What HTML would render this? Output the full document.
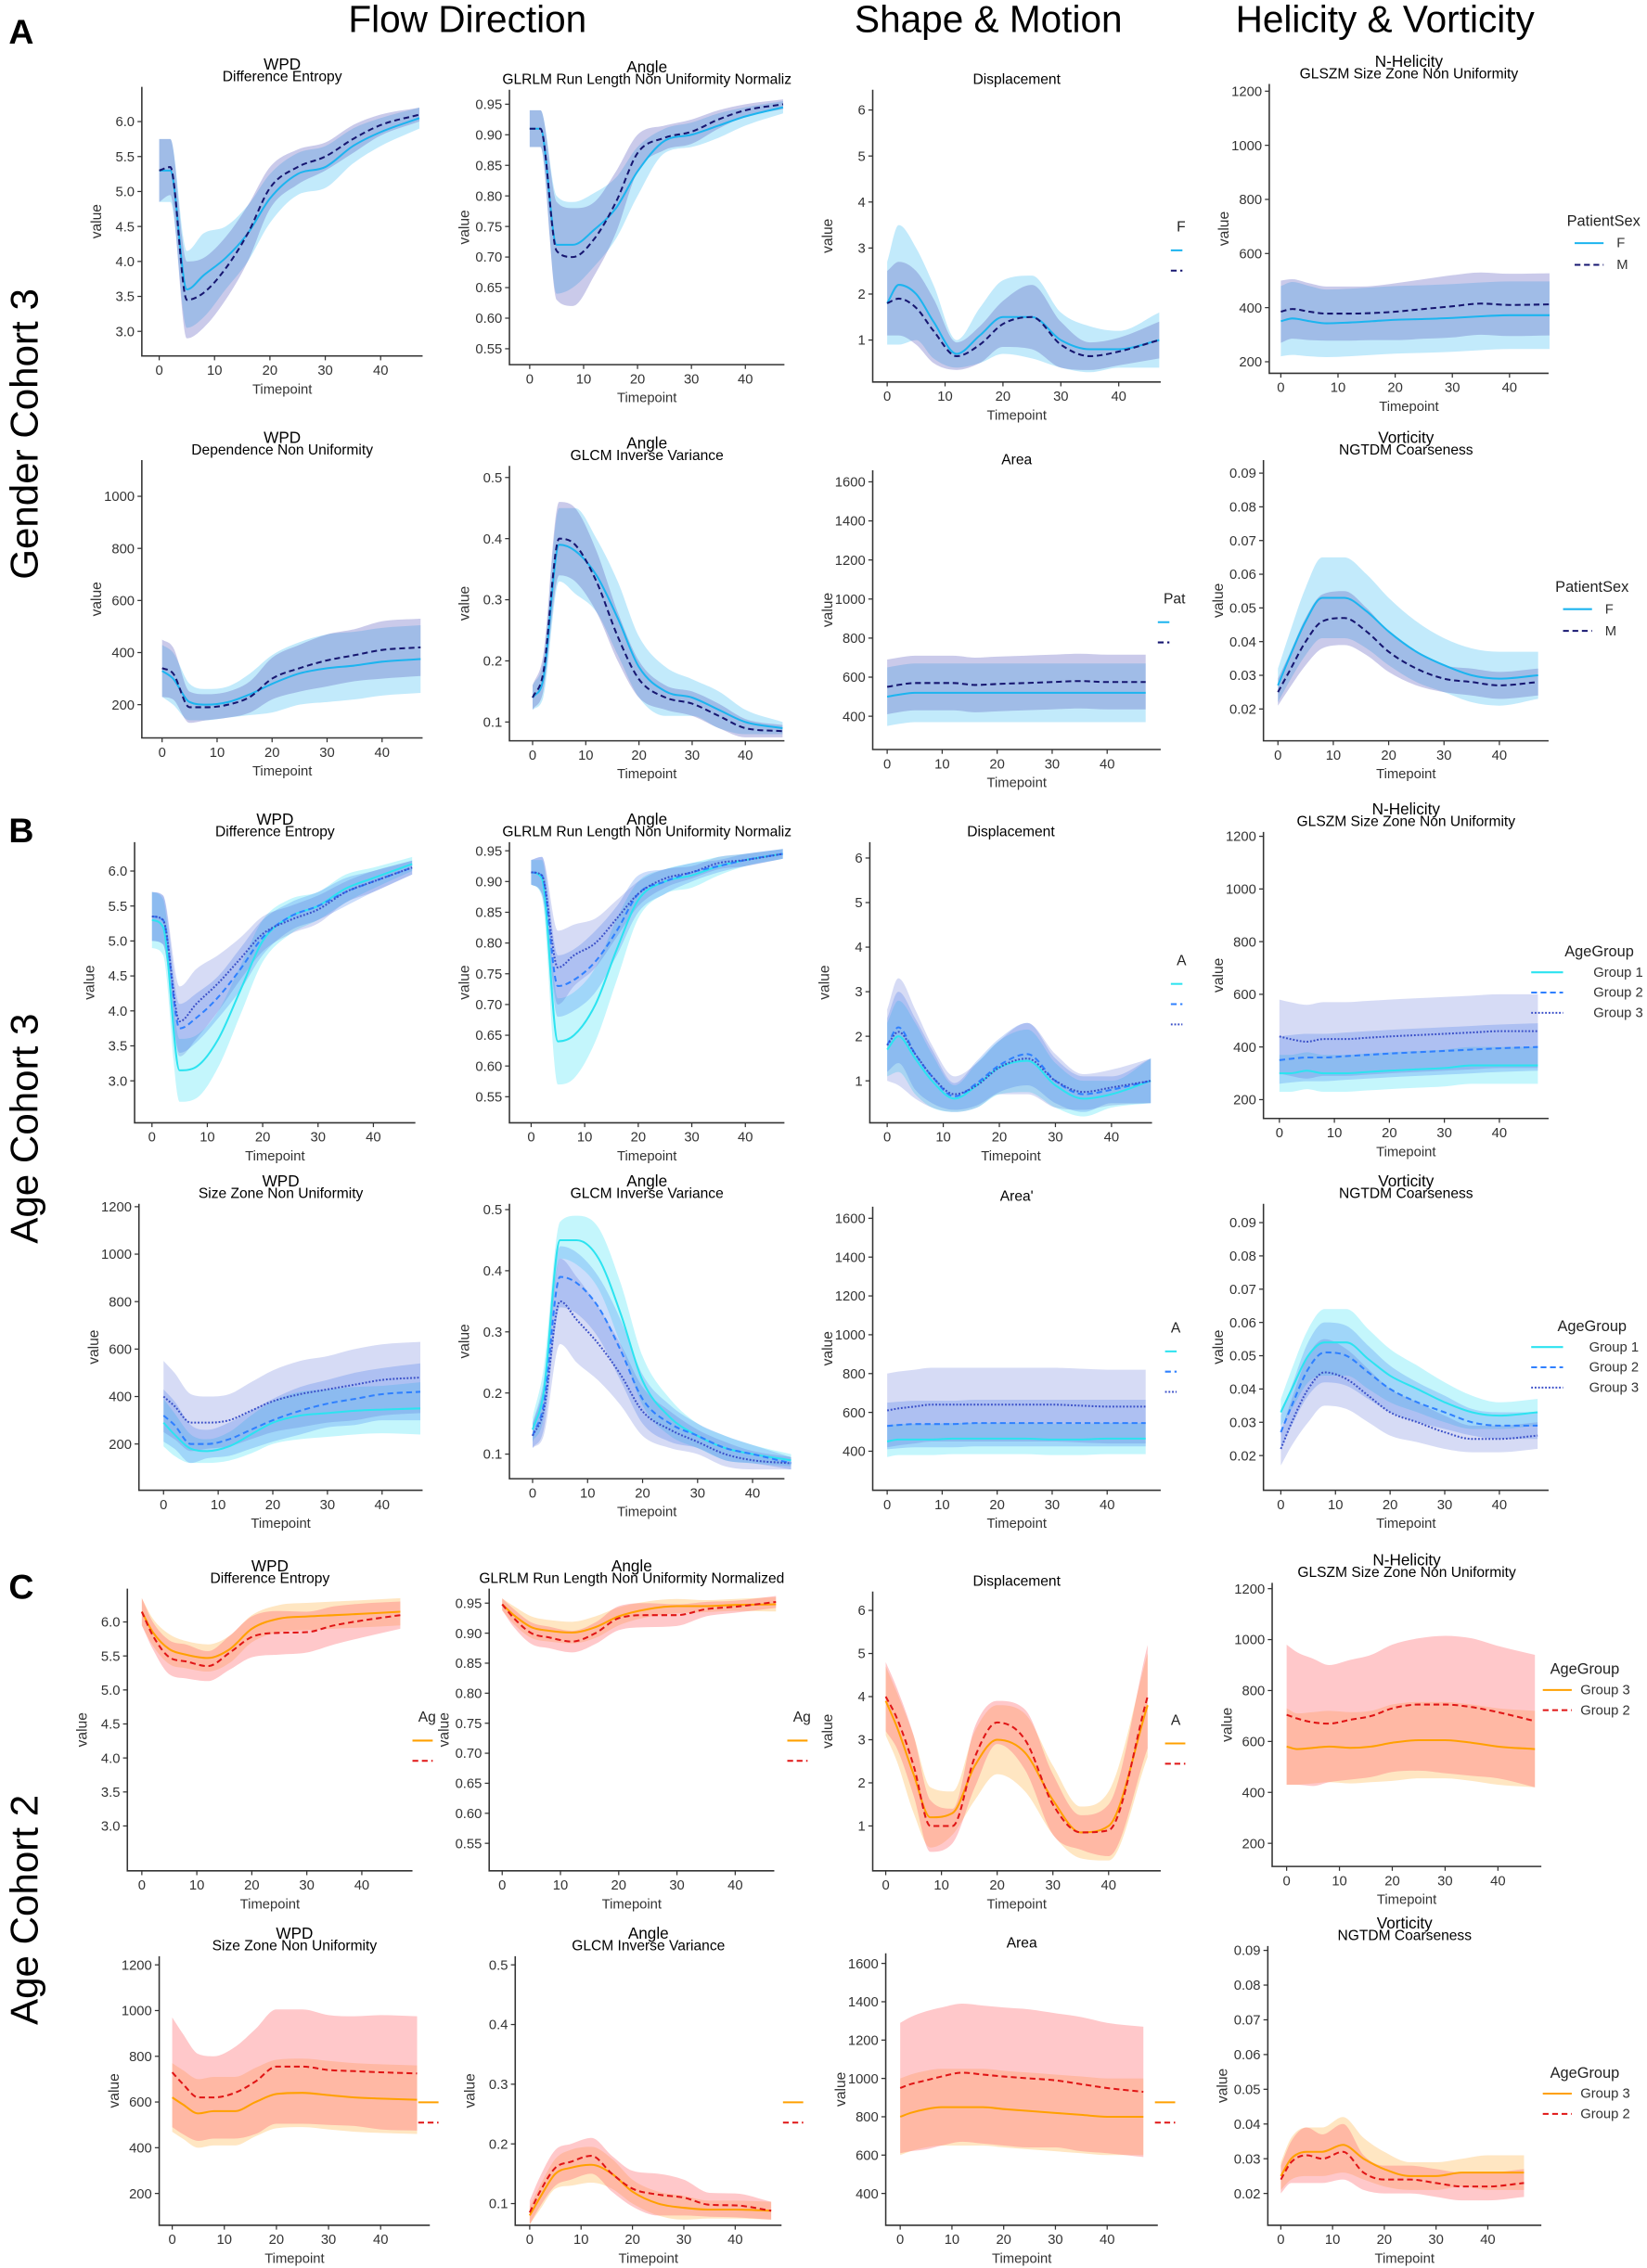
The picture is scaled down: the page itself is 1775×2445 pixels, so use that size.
<!DOCTYPE html>
<html><head><meta charset="utf-8">
<style>
html,body{margin:0;padding:0;background:#fff;}
svg{display:block;font-family:"Liberation Sans",sans-serif;}
.tk{font-family:"Liberation Sans Narrow","Liberation Sans",sans-serif;font-size:9.5px;fill:#333;}
</style></head>
<body>
<svg id="fig" width="1775" height="2445" viewBox="0 0 1138 1567.5" xmlns="http://www.w3.org/2000/svg">
<text x="323" y="22" font-size="26" text-anchor="middle">Flow Direction</text>
<text x="683" y="22" font-size="26" text-anchor="middle">Shape &amp; Motion</text>
<text x="957" y="22" font-size="26" text-anchor="middle">Helicity &amp; Vorticity</text>
<text x="6" y="30" font-size="24" font-weight="bold">A</text>
<text x="6" y="582" font-size="24" font-weight="bold">B</text>
<text x="6" y="1105" font-size="24" font-weight="bold">C</text>
<text transform="translate(26,300) rotate(-90)" font-size="27" text-anchor="middle">Gender Cohort 3</text>
<text transform="translate(26,780) rotate(-90)" font-size="27" text-anchor="middle">Age Cohort 3</text>
<text transform="translate(26,1320) rotate(-90)" font-size="27" text-anchor="middle">Age Cohort 2</text>
<g id="panels"></g>
</svg>
<script>
// shared timepoints
const timepoints = [0,2,5,8,12,16,20,25,30,35,40,47];
const xTicks = [0,10,20,30,40];
// ---- Section A (Gender cohort 3) ----
const a1c1_F = [5.3,5.3,3.6,3.8,4.05,4.4,4.9,5.25,5.35,5.65,5.85,6.05];
const a1c1_F_sd = [0.45,0.45,0.55,0.6,0.45,0.4,0.35,0.3,0.3,0.25,0.2,0.15];
const a1c1_M = [5.3,5.35,3.45,3.55,3.9,4.4,5.05,5.35,5.5,5.75,5.95,6.1];
const a1c1_M_sd = [0.45,0.4,0.55,0.5,0.45,0.4,0.3,0.25,0.2,0.2,0.15,0.1];
const a1c2_F = [0.91,0.91,0.72,0.72,0.745,0.78,0.84,0.89,0.90,0.915,0.93,0.945];
const a1c2_F_sd = [0.03,0.03,0.08,0.07,0.06,0.05,0.04,0.02,0.02,0.02,0.015,0.01];
const a1c2_M = [0.91,0.91,0.71,0.70,0.73,0.79,0.87,0.895,0.905,0.925,0.94,0.95];
const a1c2_M_sd = [0.03,0.03,0.08,0.08,0.06,0.05,0.03,0.02,0.02,0.015,0.01,0.008];
const a1c3_F = [1.8,2.2,2.0,1.4,0.7,1.1,1.5,1.5,1.0,0.8,0.8,1.0];
const a1c3_F_sd = [0.9,1.3,1.0,0.8,0.3,0.6,0.8,0.9,0.6,0.5,0.4,0.6];
const a1c3_M = [1.8,1.9,1.7,1.2,0.65,0.9,1.35,1.5,0.9,0.65,0.75,1.0];
const a1c3_M_sd = [0.7,0.8,0.8,0.7,0.3,0.4,0.5,0.7,0.5,0.3,0.3,0.4];
const a1c4_F = [350,360,350,342,345,350,355,358,362,368,372,372];
const a1c4_F_sd = [130,135,130,125,125,125,125,125,125,125,125,125];
const a1c4_M = [385,395,385,378,378,380,385,395,405,415,410,412];
const a1c4_M_sd = [115,110,105,100,100,100,105,110,115,115,115,115];
const a2c1_F = [330,300,210,200,210,240,280,320,340,350,365,375];
const a2c1_F_sd = [100,100,70,60,60,80,110,120,130,130,130,130];
const a2c1_M = [340,320,190,190,200,230,300,340,370,390,410,420];
const a2c1_M_sd = [110,100,60,50,50,60,80,90,100,100,110,110];
const a2c2_F = [0.14,0.17,0.39,0.38,0.34,0.27,0.19,0.15,0.14,0.12,0.10,0.09];
const a2c2_F_sd = [0.02,0.03,0.06,0.07,0.06,0.06,0.05,0.04,0.03,0.03,0.02,0.01];
const a2c2_M = [0.14,0.18,0.40,0.39,0.33,0.24,0.17,0.14,0.13,0.11,0.09,0.085];
const a2c2_M_sd = [0.02,0.03,0.06,0.06,0.05,0.04,0.03,0.02,0.02,0.02,0.015,0.01];
const a2c3_F = [500,510,520,520,520,520,520,520,520,520,520,520];
const a2c3_F_sd = [150,150,150,150,150,150,150,150,150,150,150,150];
const a2c3_M = [550,560,570,570,570,560,565,570,575,580,575,575];
const a2c3_M_sd = [140,140,140,140,140,140,140,140,140,140,140,140];
const a2c4_F = [0.027,0.035,0.046,0.053,0.053,0.049,0.043,0.037,0.033,0.030,0.029,0.030];
const a2c4_F_sd = [0.005,0.007,0.01,0.012,0.012,0.011,0.01,0.009,0.008,0.008,0.008,0.007];
const a2c4_M = [0.025,0.031,0.040,0.046,0.047,0.043,0.037,0.032,0.029,0.028,0.027,0.028];
const a2c4_M_sd = [0.004,0.005,0.007,0.008,0.008,0.007,0.006,0.005,0.004,0.004,0.004,0.004];
// ---- Section B (Age cohort 3) ----
const b1c1_G1 = [5.3,5.2,3.15,3.2,3.6,4.3,5.0,5.35,5.5,5.75,5.9,6.1];
const b1c1_G1_sd = [0.4,0.4,0.45,0.45,0.4,0.35,0.3,0.25,0.2,0.2,0.15,0.1];
const b1c1_G2 = [5.35,5.3,3.75,3.9,4.2,4.6,5.05,5.35,5.5,5.7,5.85,6.05];
const b1c1_G2_sd = [0.35,0.35,0.35,0.35,0.3,0.3,0.25,0.2,0.2,0.2,0.15,0.1];
const b1c1_G3 = [5.35,5.3,3.85,4.1,4.4,4.75,5.1,5.3,5.45,5.7,5.85,6.05];
const b1c1_G3_sd = [0.35,0.35,0.5,0.5,0.4,0.3,0.25,0.2,0.2,0.15,0.15,0.1];
const b1c2_G1 = [0.915,0.905,0.64,0.65,0.70,0.79,0.87,0.90,0.91,0.925,0.935,0.945];
const b1c2_G1_sd = [0.02,0.03,0.07,0.07,0.06,0.05,0.03,0.02,0.02,0.015,0.01,0.008];
const b1c2_G2 = [0.915,0.91,0.73,0.74,0.77,0.82,0.88,0.90,0.915,0.925,0.935,0.945];
const b1c2_G2_sd = [0.02,0.03,0.05,0.05,0.05,0.04,0.03,0.02,0.015,0.01,0.01,0.008];
const b1c2_G3 = [0.915,0.91,0.76,0.78,0.80,0.84,0.88,0.905,0.915,0.93,0.935,0.945];
const b1c2_G3_sd = [0.02,0.03,0.06,0.05,0.04,0.03,0.02,0.015,0.01,0.01,0.01,0.008];
const b1c3_G1 = [1.7,2.0,1.5,1.0,0.6,0.9,1.3,1.45,0.9,0.6,0.7,1.0];
const b1c3_G1_sd = [0.6,0.8,0.8,0.6,0.3,0.5,0.6,0.7,0.5,0.4,0.3,0.5];
const b1c3_G2 = [1.8,2.2,1.6,1.1,0.65,0.95,1.35,1.6,1.0,0.7,0.8,1.0];
const b1c3_G2_sd = [0.6,0.8,0.8,0.6,0.3,0.5,0.6,0.7,0.5,0.4,0.3,0.5];
const b1c3_G3 = [1.8,2.1,1.6,1.1,0.7,0.9,1.3,1.5,1.0,0.75,0.85,1.0];
const b1c3_G3_sd = [0.8,1.2,1.0,0.7,0.4,0.5,0.6,0.8,0.6,0.4,0.4,0.5];
const b1c4_G1 = [300,300,310,300,300,305,310,315,320,330,330,330];
const b1c4_G1_sd = [70,70,70,70,70,70,70,70,70,70,70,70];
const b1c4_G2 = [350,355,360,360,365,370,375,380,385,390,395,400];
const b1c4_G2_sd = [90,90,90,90,90,90,90,90,90,90,90,90];
const b1c4_G3 = [440,430,420,430,430,435,440,445,450,455,460,460];
const b1c4_G3_sd = [140,140,140,140,140,140,140,140,140,140,140,140];
const b2c1_G1 = [290,240,180,170,190,240,290,320,330,340,345,350];
const b2c1_G1_sd = [100,90,60,50,60,80,90,100,100,100,100,110];
const b2c1_G2 = [320,280,200,200,220,260,300,340,370,390,410,420];
const b2c1_G2_sd = [110,100,80,60,70,80,90,100,100,110,110,120];
const b2c1_G3 = [400,360,290,290,300,340,380,410,430,450,470,480];
const b2c1_G3_sd = [150,140,120,110,110,120,130,140,140,150,150,150];
const b2c2_G1 = [0.14,0.20,0.45,0.45,0.42,0.33,0.22,0.16,0.13,0.11,0.10,0.09];
const b2c2_G1_sd = [0.02,0.04,0.03,0.04,0.05,0.05,0.04,0.03,0.02,0.02,0.015,0.01];
const b2c2_G2 = [0.13,0.18,0.39,0.38,0.34,0.27,0.19,0.15,0.13,0.11,0.10,0.085];
const b2c2_G2_sd = [0.02,0.04,0.05,0.05,0.05,0.05,0.04,0.03,0.02,0.02,0.015,0.01];
const b2c2_G3 = [0.13,0.17,0.35,0.32,0.28,0.23,0.17,0.14,0.12,0.10,0.09,0.085];
const b2c2_G3_sd = [0.02,0.04,0.07,0.07,0.06,0.05,0.04,0.03,0.02,0.02,0.015,0.01];
const b2c3_G1 = [450,460,460,460,465,465,465,465,460,460,465,465];
const b2c3_G1_sd = [80,80,80,80,80,80,80,80,80,80,80,80];
const b2c3_G2 = [530,535,540,540,540,545,545,545,545,545,545,545];
const b2c3_G2_sd = [120,120,120,120,120,120,120,120,120,120,120,120];
const b2c3_G3 = [610,620,630,640,640,640,640,640,640,635,630,630];
const b2c3_G3_sd = [190,190,190,190,190,190,190,190,190,190,190,190];
const b2c4_G1 = [0.033,0.040,0.050,0.054,0.054,0.049,0.044,0.040,0.036,0.033,0.032,0.033];
const b2c4_G1_sd = [0.004,0.006,0.008,0.01,0.01,0.009,0.008,0.007,0.006,0.005,0.004,0.004];
const b2c4_G2 = [0.027,0.035,0.046,0.051,0.050,0.045,0.040,0.036,0.033,0.030,0.029,0.029];
const b2c4_G2_sd = [0.005,0.006,0.008,0.009,0.009,0.008,0.007,0.006,0.005,0.004,0.004,0.004];
const b2c4_G3 = [0.022,0.030,0.040,0.045,0.043,0.038,0.033,0.030,0.027,0.025,0.025,0.026];
const b2c4_G3_sd = [0.005,0.007,0.01,0.01,0.009,0.008,0.007,0.006,0.005,0.004,0.004,0.004];
// ---- Section C (Age cohort 2) ----
const c1c1_G3 = [6.15,5.85,5.6,5.52,5.47,5.6,5.9,6.05,6.08,6.1,6.12,6.15];
const c1c1_G3_sd = [0.2,0.2,0.22,0.2,0.2,0.2,0.2,0.2,0.2,0.2,0.2,0.2];
const c1c1_G2 = [6.15,5.8,5.48,5.42,5.35,5.55,5.78,5.84,5.85,5.95,6.02,6.1];
const c1c1_G2_sd = [0.2,0.2,0.25,0.25,0.22,0.25,0.3,0.32,0.3,0.28,0.25,0.2];
const c1c2_G3 = [0.948,0.93,0.91,0.904,0.901,0.91,0.928,0.94,0.945,0.945,0.947,0.948];
const c1c2_G3_sd = [0.01,0.015,0.018,0.018,0.018,0.018,0.015,0.013,0.012,0.01,0.01,0.012];
const c1c2_G2 = [0.948,0.925,0.90,0.893,0.886,0.90,0.925,0.93,0.93,0.94,0.944,0.952];
const c1c2_G2_sd = [0.01,0.015,0.018,0.018,0.018,0.018,0.02,0.02,0.018,0.012,0.01,0.01];
const c1c3_G3 = [3.9,3.3,2.2,1.2,1.3,2.4,3.0,2.7,1.6,0.85,1.0,3.8];
const c1c3_G3_sd = [0.8,0.8,0.9,0.7,0.5,0.8,0.8,0.9,0.8,0.6,0.8,1.2];
const c1c3_G2 = [4.0,3.5,2.4,1.0,1.0,2.6,3.4,3.0,1.5,0.85,0.9,4.0];
const c1c3_G2_sd = [0.8,0.7,0.7,0.6,0.4,0.7,0.5,0.7,0.7,0.4,0.6,1.2];
const c1c4_G3 = [580,570,575,580,575,580,595,605,605,595,580,570];
const c1c4_G3_sd = [150,140,140,140,140,140,150,150,150,150,150,150];
const c1c4_G2 = [705,690,675,670,685,700,730,745,745,735,715,680];
const c1c4_G2_sd = [275,260,250,230,235,240,250,260,270,270,260,260];
const c2c1_G3 = [620,590,550,560,560,600,635,640,630,620,615,610];
const c2c1_G3_sd = [150,150,150,150,150,150,150,150,150,150,150,150];
const c2c1_G2 = [730,680,620,620,640,690,755,755,740,735,730,725];
const c2c1_G2_sd = [240,220,190,180,200,230,250,250,240,240,250,250];
const c2c2_G3 = [0.08,0.11,0.15,0.16,0.165,0.15,0.12,0.10,0.093,0.09,0.09,0.088];
const c2c2_G3_sd = [0.015,0.02,0.025,0.03,0.03,0.025,0.02,0.02,0.02,0.015,0.015,0.015];
const c2c2_G2 = [0.085,0.12,0.16,0.17,0.18,0.15,0.125,0.115,0.11,0.098,0.097,0.088];
const c2c2_G2_sd = [0.02,0.025,0.03,0.03,0.03,0.03,0.03,0.035,0.03,0.02,0.02,0.015];
const c2c3_G3 = [800,820,840,850,850,850,840,830,820,810,800,800];
const c2c3_G3_sd = [200,200,200,200,200,200,200,200,200,200,200,200];
const c2c3_G2 = [950,970,990,1010,1030,1020,1010,1000,990,970,950,930];
const c2c3_G2_sd = [340,350,360,360,360,360,360,360,350,350,340,340];
const c2c4_G3 = [0.025,0.030,0.032,0.032,0.034,0.030,0.027,0.025,0.025,0.026,0.026,0.026];
const c2c4_G3_sd = [0.004,0.006,0.007,0.007,0.008,0.006,0.005,0.004,0.004,0.004,0.005,0.005];
const c2c4_G2 = [0.024,0.029,0.031,0.030,0.032,0.026,0.024,0.024,0.023,0.022,0.022,0.023];
const c2c4_G2_sd = [0.004,0.006,0.008,0.007,0.008,0.005,0.004,0.004,0.004,0.004,0.004,0.004];
// tick label arrays
const ticksEntropy = [3.0,3.5,4.0,4.5,5.0,5.5,6.0];
const ticksGLRLM = [0.55,0.60,0.65,0.70,0.75,0.80,0.85,0.90,0.95];
const ticksDisp = [1,2,3,4,5,6];
const ticks1200 = [200,400,600,800,1000,1200];
const ticks1000 = [200,400,600,800,1000];
const ticksIV = [0.1,0.2,0.3,0.4,0.5];
const ticksArea = [400,600,800,1000,1200,1400,1600];
const ticksCoarse = [0.02,0.03,0.04,0.05,0.06,0.07,0.08,0.09];

const STY = {
  F:{c:'#1cb4ef',d:'',b:'rgba(110,205,245,0.42)'},
  M:{c:'#161670',d:'4,2.5',b:'rgba(90,90,190,0.32)'},
  G1:{c:'#2ce3f0',d:'',b:'rgba(60,225,245,0.30)'},
  G2:{c:'#2f80ff',d:'4,2.5',b:'rgba(50,120,240,0.25)'},
  G3b:{c:'#3a4fc8',d:'1.2,1.2',b:'rgba(70,90,210,0.22)'},
  G3o:{c:'#ffa000',d:'',b:'rgba(255,195,110,0.42)'},
  G2r:{c:'#e01515',d:'4,2.5',b:'rgba(255,110,115,0.38)'}
};
function fmt(v,t){ if(t===ticksEntropy) return v.toFixed(1); if(t===ticksGLRLM||t===ticksCoarse) return v.toFixed(2); if(t===ticksIV) return v.toFixed(1); return String(v);}

// legend layout: [title, labels, titleX, lineX1, lineX2, textX, titleY, rowGap]
const P = [
 {id:'a1c1',t1:'WPD',t2:'Difference Entropy',L:98,T:60,B:246,R:292,x0:110,x40:263,yt:ticksEntropy,yb:229,ytp:84,s:[[a1c1_F,a1c1_F_sd,'F'],[a1c1_M,a1c1_M_sd,'M']]},
 {id:'a1c2',t1:'Angle',t2:'GLRLM Run Length Non Uniformity Normaliz',L:352,T:62,B:252,R:542,x0:366,x40:515,yt:ticksGLRLM,yb:241,ytp:72,s:[[a1c2_F,a1c2_F_sd,'F'],[a1c2_M,a1c2_M_sd,'M']]},
 {id:'a1c3',t1:'',t2:'Displacement',L:603,T:62,B:264,R:802,x0:613,x40:773,yt:ticksDisp,yb:235,ytp:76,s:[[a1c3_F,a1c3_F_sd,'F'],[a1c3_M,a1c3_M_sd,'M']],cut:['F',813,160,false]},
 {id:'a1c4',t1:'N-Helicity',t2:'GLSZM Size Zone Non Uniformity',L:877,T:58,B:258,R:1070,x0:885,x40:1043,yt:ticks1200,yb:250,ytp:63,s:[[a1c4_F,a1c4_F_sd,'F'],[a1c4_M,a1c4_M_sd,'M']],leg:['PatientSex',['F','M'],1108,1088,1108,1117,156,15]},
 {id:'a2c1',t1:'WPD',t2:'Dependence Non Uniformity',L:98,T:318,B:510,R:292,x0:112,x40:264,yt:ticks1000,yb:487,ytp:343,s:[[a2c1_F,a2c1_F_sd,'F'],[a2c1_M,a2c1_M_sd,'M']]},
 {id:'a2c2',t1:'Angle',t2:'GLCM Inverse Variance',L:352,T:322,B:512,R:542,x0:368,x40:515,yt:ticksIV,yb:499,ytp:330,s:[[a2c2_F,a2c2_F_sd,'F'],[a2c2_M,a2c2_M_sd,'M']]},
 {id:'a2c3',t1:'',t2:'Area',L:603,T:325,B:518,R:802,x0:613,x40:765,yt:ticksArea,yb:495,ytp:333,s:[[a2c3_F,a2c3_F_sd,'F'],[a2c3_M,a2c3_M_sd,'M']],cut:['Pat',804,417,false]},
 {id:'a2c4',t1:'Vorticity',t2:'NGTDM Coarseness',L:873,T:318,B:512,R:1070,x0:883,x40:1036,yt:ticksCoarse,yb:490,ytp:327,s:[[a2c4_F,a2c4_F_sd,'F'],[a2c4_M,a2c4_M_sd,'M']],leg:['PatientSex',['F','M'],1100,1080,1100,1109,409,15]},
 {id:'b1c1',t1:'WPD',t2:'Difference Entropy',L:93,T:582,B:776,R:287,x0:105,x40:258,yt:ticksEntropy,yb:747,ytp:602,s:[[b1c1_G1,b1c1_G1_sd,'G1'],[b1c1_G2,b1c1_G2_sd,'G2'],[b1c1_G3,b1c1_G3_sd,'G3b']]},
 {id:'b1c2',t1:'Angle',t2:'GLRLM Run Length Non Uniformity Normaliz',L:352,T:582,B:776,R:542,x0:367,x40:515,yt:ticksGLRLM,yb:758,ytp:588,s:[[b1c2_G1,b1c2_G1_sd,'G1'],[b1c2_G2,b1c2_G2_sd,'G2'],[b1c2_G3,b1c2_G3_sd,'G3b']]},
 {id:'b1c3',t1:'',t2:'Displacement',L:601,T:582,B:776,R:796,x0:613,x40:768,yt:ticksDisp,yb:747,ytp:593,s:[[b1c3_G1,b1c3_G1_sd,'G1'],[b1c3_G2,b1c3_G2_sd,'G2'],[b1c3_G3,b1c3_G3_sd,'G3b']],cut:['A',813,667,false]},
 {id:'b1c4',t1:'N-Helicity',t2:'GLSZM Size Zone Non Uniformity',L:873,T:575,B:773,R:1070,x0:884,x40:1036,yt:ticks1200,yb:760,ytp:578,s:[[b1c4_G1,b1c4_G1_sd,'G1'],[b1c4_G2,b1c4_G2_sd,'G2'],[b1c4_G3,b1c4_G3_sd,'G3b']],leg:['AgeGroup',['Group 1','Group 2','Group 3'],1105,1058,1080,1101,661,14]},
 {id:'b2c1',t1:'WPD',t2:'Size Zone Non Uniformity',L:96,T:832,B:1030,R:292,x0:113,x40:264,yt:ticks1200,yb:998,ytp:834,s:[[b2c1_G1,b2c1_G1_sd,'G1'],[b2c1_G2,b2c1_G2_sd,'G2'],[b2c1_G3,b2c1_G3_sd,'G3b']]},
 {id:'b2c2',t1:'Angle',t2:'GLCM Inverse Variance',L:352,T:832,B:1022,R:542,x0:368,x40:520,yt:ticksIV,yb:1005,ytp:836,s:[[b2c2_G1,b2c2_G1_sd,'G1'],[b2c2_G2,b2c2_G2_sd,'G2'],[b2c2_G3,b2c2_G3_sd,'G3b']]},
 {id:'b2c3',t1:'',t2:"Area'",L:603,T:834,B:1030,R:802,x0:613,x40:765,yt:ticksArea,yb:1003,ytp:842,s:[[b2c3_G1,b2c3_G1_sd,'G1'],[b2c3_G2,b2c3_G2_sd,'G2'],[b2c3_G3,b2c3_G3_sd,'G3b']],cut:['A',809,921,false]},
 {id:'b2c4',t1:'Vorticity',t2:'NGTDM Coarseness',L:873,T:832,B:1030,R:1070,x0:885,x40:1036,yt:ticksCoarse,yb:1006,ytp:845,s:[[b2c4_G1,b2c4_G1_sd,'G1'],[b2c4_G2,b2c4_G2_sd,'G2'],[b2c4_G3,b2c4_G3_sd,'G3b']],leg:['AgeGroup',['Group 1','Group 2','Group 3'],1100,1058,1080,1098,920,14]},
 {id:'c1c1',t1:'WPD',t2:'Difference Entropy',L:88,T:1098,B:1293,R:285,x0:98,x40:250,yt:ticksEntropy,yb:1262,ytp:1121,s:[[c1c1_G3,c1c1_G3_sd,'G3o'],[c1c1_G2,c1c1_G2_sd,'G2r']],cut:['Ag',289,1190,true]},
 {id:'c1c2',t1:'Angle',t2:'GLRLM Run Length Non Uniformity Normalized',L:338,T:1098,B:1293,R:535,x0:347,x40:508,yt:ticksGLRLM,yb:1274,ytp:1108,s:[[c1c2_G3,c1c2_G3_sd,'G3o'],[c1c2_G2,c1c2_G2_sd,'G2r']],cut:['Ag',548,1190,true]},
 {id:'c1c3',t1:'',t2:'Displacement',L:603,T:1100,B:1293,R:802,x0:612,x40:766,yt:ticksDisp,yb:1262,ytp:1113,s:[[c1c3_G3,c1c3_G3_sd,'G3o'],[c1c3_G2,c1c3_G2_sd,'G2r']],cut:['A',809,1192,true]},
 {id:'c1c4',t1:'N-Helicity',t2:'GLSZM Size Zone Non Uniformity',L:879,T:1094,B:1290,R:1065,x0:889,x40:1035,yt:ticks1200,yb:1274,ytp:1098,s:[[c1c4_G3,c1c4_G3_sd,'G3o'],[c1c4_G2,c1c4_G2_sd,'G2r']],leg:['AgeGroup',['Group 3','Group 2'],1095,1066,1086,1092,1157,14]},
 {id:'c2c1',t1:'WPD',t2:'Size Zone Non Uniformity',L:110,T:1352,B:1538,R:297,x0:119,x40:263,yt:ticks1200,yb:1516,ytp:1358,s:[[c2c1_G3,c2c1_G3_sd,'G3o'],[c2c1_G2,c2c1_G2_sd,'G2r']],cut:['',293,1440,true]},
 {id:'c2c2',t1:'Angle',t2:'GLCM Inverse Variance',L:356,T:1352,B:1538,R:540,x0:366,x40:508,yt:ticksIV,yb:1523,ytp:1358,s:[[c2c2_G3,c2c2_G3_sd,'G3o'],[c2c2_G2,c2c2_G2_sd,'G2r']],cut:['',545,1440,true]},
 {id:'c2c3',t1:'',t2:'Area',L:612,T:1350,B:1538,R:800,x0:622,x40:765,yt:ticksArea,yb:1516,ytp:1357,s:[[c2c3_G3,c2c3_G3_sd,'G3o'],[c2c3_G2,c2c3_G2_sd,'G2r']],cut:['',802,1440,true]},
 {id:'c2c4',t1:'Vorticity',t2:'NGTDM Coarseness',L:876,T:1345,B:1538,R:1065,x0:885,x40:1028,yt:ticksCoarse,yb:1516,ytp:1348,s:[[c2c4_G3,c2c4_G3_sd,'G3o'],[c2c4_G2,c2c4_G2_sd,'G2r']],leg:['AgeGroup',['Group 3','Group 2'],1095,1066,1086,1092,1436,14]}
];

const NS='http://www.w3.org/2000/svg';
const root=document.getElementById('panels');
function mk(tag,attrs,parent){const e=document.createElementNS(NS,tag);for(const k in attrs)e.setAttribute(k,attrs[k]);(parent||root).appendChild(e);return e;}
// monotone cubic (Fritsch-Carlson) path through points
function mono(pts,cont){
  const n=pts.length,dx=[],s=[],m=[];
  for(let i=0;i<n-1;i++){dx[i]=pts[i+1][0]-pts[i][0];s[i]=(pts[i+1][1]-pts[i][1])/dx[i];}
  m[0]=s[0];m[n-1]=s[n-2];
  for(let i=1;i<n-1;i++){m[i]=(s[i-1]*s[i]<=0)?0:(s[i-1]+s[i])/2;}
  for(let i=0;i<n-1;i++){
    if(s[i]===0){m[i]=0;m[i+1]=0;continue;}
    const a=m[i]/s[i],b=m[i+1]/s[i],h=a*a+b*b;
    if(h>9){const t=3/Math.sqrt(h);m[i]=t*a*s[i];m[i+1]=t*b*s[i];}
  }
  let d=(cont?'L':'M')+pts[0][0].toFixed(2)+','+pts[0][1].toFixed(2);
  for(let i=0;i<n-1;i++){
    const h=dx[i]/3;
    d+='C'+(pts[i][0]+h).toFixed(2)+','+(pts[i][1]+m[i]*h).toFixed(2)+' '+(pts[i+1][0]-h).toFixed(2)+','+(pts[i+1][1]-m[i+1]*h).toFixed(2)+' '+pts[i+1][0].toFixed(2)+','+pts[i+1][1].toFixed(2);
  }
  return d;
}
function monoRev(pts){ // pts ordered by decreasing x
  const flipped=pts.map(p=>[-p[0],p[1]]);
  return mono(flipped,true).replace(/-?\d+\.\d+,/g,(m)=>{const v=parseFloat(m);return (-v).toFixed(2)+',';});
}

P.forEach(p=>{
  const g=mk('g',{});
  
  
  const xs=v=>p.x0+(p.x40-p.x0)*v/40;
  const v0=p.yt[0],v1=p.yt[p.yt.length-1];
  const ys=v=>p.yb+(p.ytp-p.yb)*(v-v0)/(v1-v0);
  const cx=(p.L+p.R)/2;
  if(p.t1){const t=mk('text',{x:cx,y:p.T-12,'font-size':11,'text-anchor':'middle'},g);t.textContent=p.t1;
    
    }
  const t2=mk('text',{x:cx,y:p.T-4,'font-size':10,'text-anchor':'middle'},g);t2.textContent=p.t2;
  
  
  p.s.forEach(([m,sd,k])=>{
    const up=timepoints.map((t,i)=>[xs(t),ys(m[i]+sd[i])]);
    const lo=timepoints.map((t,i)=>[xs(t),ys(m[i]-sd[i])]).reverse();
    const band=mk('path',{d:mono(up,false)+monoRev(lo)+'Z',fill:STY[k].b,stroke:'none'},g);
    
    
  });
  p.s.forEach(([m,sd,k])=>{
    const pts=timepoints.map((t,i)=>[xs(t),ys(m[i])]);
    const ln=mk('path',{d:mono(pts,false),fill:'none',stroke:STY[k].c,'stroke-width':1.3,'stroke-dasharray':STY[k].d},g);
    
    
  });
  const ax=mk('path',{d:`M${p.L},${p.T}V${p.B}H${p.R}`,fill:'none',stroke:'#333','stroke-width':1},g);
  
  
  p.yt.forEach(v=>{
    const y=ys(v);
    mk('line',{x1:p.L-3,x2:p.L,y1:y,y2:y,stroke:'#333','stroke-width':0.8},g);
    const t=mk('text',{x:p.L-5,y:y+3.3,'text-anchor':'end',class:'tk'},g);t.textContent=fmt(v,p.yt);
    
    
  });
  xTicks.forEach(v=>{
    const x=xs(v);
    mk('line',{x1:x,x2:x,y1:p.B,y2:p.B+3,stroke:'#333','stroke-width':0.8},g);
    const t=mk('text',{x:x,y:p.B+13,'text-anchor':'middle',class:'tk'},g);t.textContent=String(v);
    
    
  });
  const xl=mk('text',{x:cx,y:p.B+26,'text-anchor':'middle','font-size':10.5,class:'tk'},g);xl.textContent='Timepoint';
  
  
  const yl=mk('text',{transform:`translate(${p.L-28},${(p.T+p.B)/2}) rotate(-90)`,'text-anchor':'middle','font-size':10,fill:'#333'},g);yl.textContent='value';
  
  
  if(p.leg){
    const [title,labs,tx,l1,l2,txx,ty,gap]=p.leg;
    const lt=mk('text',{x:tx,y:ty,'text-anchor':'middle','font-size':10.5,fill:'#222'},g);lt.textContent=title;
    
    
    labs.forEach((lab,i)=>{
      const k=p.s[i][2], yy=ty+gap*(i+1);
      mk('line',{x1:l1,x2:l2,y1:yy-3,y2:yy-3,stroke:STY[k].c,'stroke-width':1.3,'stroke-dasharray':STY[k].d},g);
      const et=mk('text',{x:txx,y:yy,'font-size':9.5,fill:'#333'},g);et.textContent=lab;
      
      
    });
  }
  if(p.cut){
    const [txt,x,y,wide]=p.cut;
    if(txt){const ct=mk('text',{x:x,y:y,'font-size':10,fill:'#222'},g);ct.textContent=txt;
      
      }
    p.s.forEach(([m,sd,k],i)=>{
      mk('line',{x1:x-4,x2:x+(wide?10:4),y1:y+13+i*14,y2:y+13+i*14,stroke:STY[k].c,'stroke-width':1.3,'stroke-dasharray':STY[k].d},g);
    });
  }
});
</script>
</body></html>
